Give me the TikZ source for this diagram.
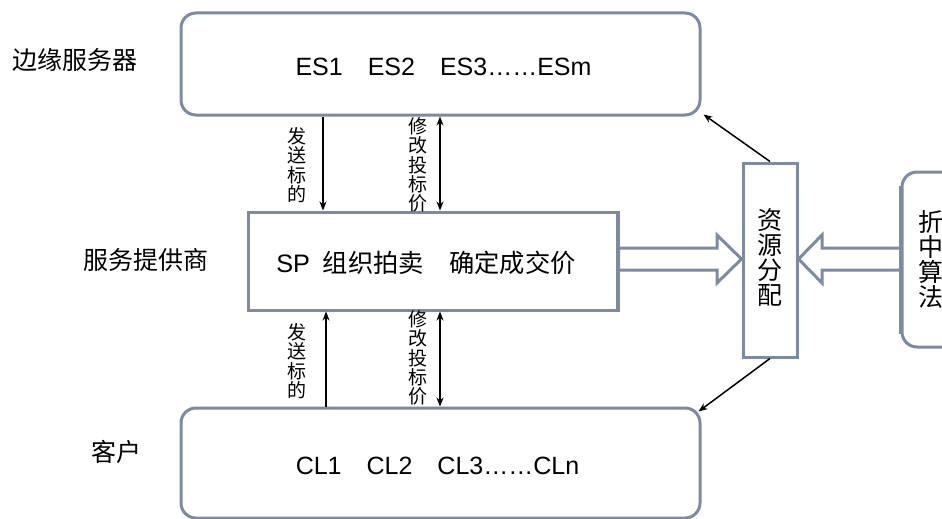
\documentclass[tikz,border=0pt]{standalone}
\usepackage{fontspec}
\setmainfont{Liberation Sans}
\newfontfamily\cjk{Noto Sans CJK SC}
\usetikzlibrary{arrows.meta,calc}
\definecolor{boxcol}{RGB}{125,138,162}
\begin{document}
\begin{tikzpicture}[x=1pt,y=-1pt,
  rbox/.style={draw=boxcol, line width=3pt, rounded corners=15pt, fill=white, inner sep=0pt},
  sbox/.style={draw=boxcol, line width=3pt, fill=white, inner sep=0pt},
  fat/.style={draw=boxcol, line width=3pt, fill=white, line join=miter},
  conn/.style={line width=1.5pt, -{Stealth[length=9pt,width=7pt]}},
  dconn/.style={line width=1.5pt, {Stealth[length=9pt,width=7pt]}-{Stealth[length=9pt,width=7pt]}},
  lbl/.style={font=\fontsize{25}{27}\selectfont\cjk, inner sep=0pt},
  vlbl/.style={font=\fontsize{19}{19.3}\selectfont\cjk, align=center, inner sep=0pt},
  vbig/.style={font=\fontsize{25}{25}\selectfont\cjk, align=center, inner sep=0pt}]
\useasboundingbox (0,0) rectangle (942,519);
% boxes
\node[rbox, minimum width=519pt, minimum height=102pt] (es) at (440.5,64) {};
\node[font=\fontsize{25}{27}\selectfont, inner sep=0pt] (estext) at (443.5,67) {ES1\quad ES2\quad ES3……ESm};
\node[sbox, minimum width=369pt, minimum height=98pt] (sp) at (432.5,261) {};
\node[font=\fontsize{25.3}{27}\selectfont, inner sep=0pt] (sptext) at (426,263) {SP\enspace{\cjk 组织拍卖}\quad{\cjk 确定成交价}};
\node[rbox, minimum width=519pt, minimum height=110pt] (cl) at (440.5,463) {};
\node[font=\fontsize{25}{27}\selectfont, inner sep=0pt] (cltext) at (437.5,466) {CL1\quad CL2\quad CL3……CLn};
\node[sbox, minimum width=54pt, minimum height=194pt] (res) at (770,260) {};
\node[vbig] (restext) at (770,257) {资\\源\\分\\配};
\node[rbox, minimum width=90pt, minimum height=175pt] (alg) at (947,259.5) {};
\node[vbig] (algtext) at (931,259) {折\\中\\算\\法};
% left labels
\node[lbl] (l1) at (75,60) {边缘服务器};
\node[lbl] (l2) at (146,260) {服务提供商};
\node[lbl] (l3) at (116,452) {客户};
% vertical connectors
\coordinate (xa) at (323,0);
\coordinate (xb) at (326,0);
\coordinate (xc) at (440,0);
\draw[conn] (es.south -| xa) -- (sp.north -| xa);
\draw[dconn] (es.south -| xc) -- (sp.north -| xc);
\draw[conn] (cl.north -| xb) -- (sp.south -| xb);
\draw[dconn] (cl.north -| xc) -- (sp.south -| xc);
\node[vlbl] (t1) at (297,165) {发\\送\\标\\的};
\node[vlbl] (t2) at (418,165) {修\\改\\投\\标\\价};
\node[vlbl] (t3) at (297,361) {发\\送\\标\\的};
\node[vlbl] (t4) at (418,358) {修\\改\\投\\标\\价};
% diagonal connectors
\draw[conn] (res.north) -- ($(es.south east)+(2,-2)$);
\draw[conn] (res.south) -- ($(cl.north east)+(-3,5)$);
% fat arrows
\draw[fat] (sp.east |- 0,248) -- (717,248) -- (717,235) -- (res.west |- 0,259) -- (717,283) -- (717,270) -- (sp.east |- 0,270) -- cycle;
\draw[fat] (alg.west |- 0,248) -- (822,248) -- (822,235) -- (res.east |- 0,259) -- (822,283) -- (822,270) -- (alg.west |- 0,270) -- cycle;
\draw[boxcol, line width=3pt] (sp.north east) -- (sp.south east);
\draw[boxcol, line width=3pt] (alg.north west) ++(0,15) -- ($(alg.south west)+(0,-15)$);
\end{tikzpicture}
\end{document}
